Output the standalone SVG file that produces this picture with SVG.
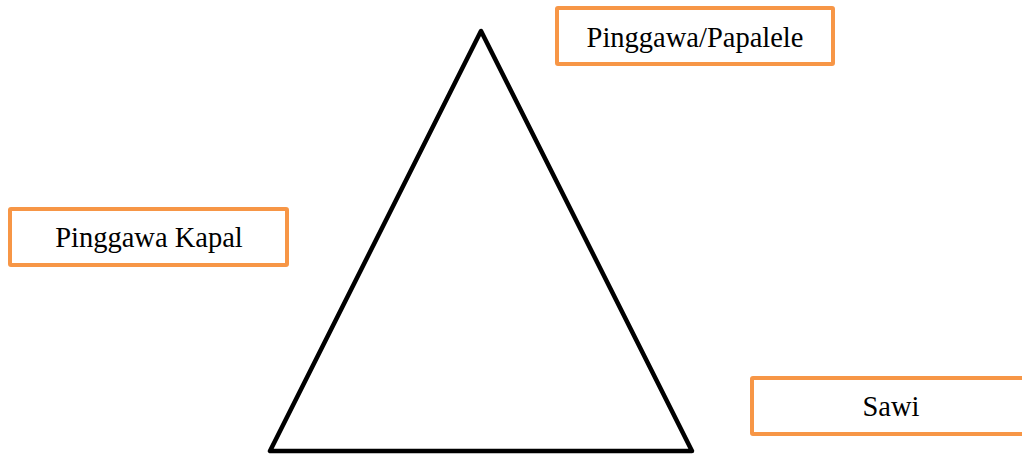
<svg xmlns="http://www.w3.org/2000/svg" width="1022" height="455" viewBox="0 0 1022 455">
<style>
.box{fill:#fff;stroke:#F79646;stroke-width:4;}
.lbl{font-family:"Liberation Serif","Times New Roman",serif;font-size:28.5px;fill:#000;text-anchor:middle;}
.tri{fill:none;stroke:#000;stroke-width:4.5;stroke-linejoin:round;}
</style>
<rect width="1022" height="455" fill="#fff"/>
<g id="triangle">
<polygon class="tri" points="481,31 270,451 692,451"/>
</g>
<g id="connectors"></g>
<g id="node-papalele">
<rect class="box" x="557" y="8" width="276" height="56" rx="1"/>
<text class="lbl" x="695" y="47">Pinggawa/Papalele</text>
</g>
<g id="node-kapal">
<rect class="box" x="10" y="209" width="277" height="56" rx="1"/>
<text class="lbl" x="149" y="247">Pinggawa Kapal</text>
</g>
<g id="node-sawi">
<rect class="box" x="752" y="378" width="280" height="56" rx="1"/>
<text class="lbl" x="891" y="416">Sawi</text>
</g>
</svg>
